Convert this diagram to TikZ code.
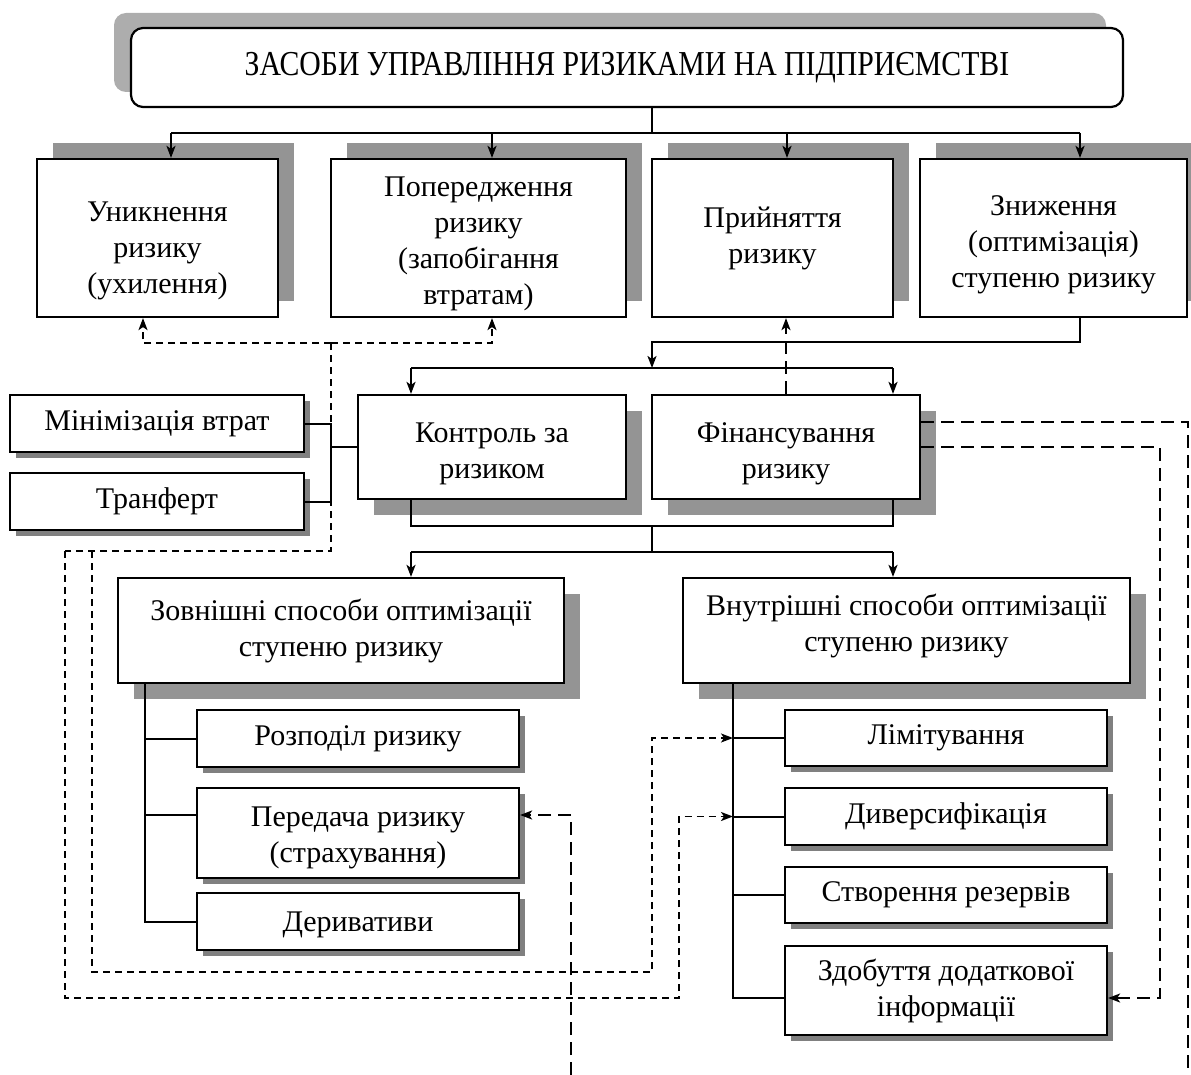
\documentclass[tikz,border=0pt]{standalone}
\usepackage{fontspec}
\setmainfont{Liberation Serif}
\usepackage{graphicx}
\usetikzlibrary{arrows.meta,shadows,calc}
\newcommand{\lowtext}[2]{\raisebox{#1}[\height][\depth]{\begin{tabular}{@{}c@{}}#2\end{tabular}}}
\begin{document}
\begin{tikzpicture}[x=1pt,y=-1pt,
  every node/.style={font=\fontsize{30}{36}\selectfont},
  box/.style={draw, line width=2.2pt, fill=white, align=center, inner sep=0pt},
  bigshup/.style={box, drop shadow={shadow xshift=16pt, shadow yshift=16pt, fill=black!42, opacity=1}},
  bigshdn/.style={box, drop shadow={shadow xshift=16pt, shadow yshift=-16pt, fill=black!42, opacity=1}},
  smallbox/.style={box, drop shadow={shadow xshift=6pt, shadow yshift=-6pt, fill=black!50, opacity=1}},
  conn/.style={line width=2pt},
  arr/.style={conn, -{Stealth[length=12pt,width=9pt,inset=3pt]}},
  sdash/.style={line width=1.8pt, dash pattern=on 7pt off 5pt},
  ldash/.style={line width=1.8pt, dash pattern=on 13pt off 7pt},
  darr/.style={-{Stealth[length=12pt,width=9pt,inset=3pt]}},
]
\useasboundingbox (0,0) rectangle (1191,1075);

% title
\node[draw, line width=2.2pt, fill=white, rounded corners=12pt, inner sep=0pt,
      minimum width=992pt, minimum height=79pt,
      drop shadow={shadow xshift=-17pt, shadow yshift=15pt, fill=black!32, opacity=1}]
  (title) at (627,67.5) {\scalebox{0.85}[1]{\fontsize{35}{40}\selectfont ЗАСОБИ УПРАВЛІННЯ РИЗИКАМИ НА ПІДПРИЄМСТВІ}};

% top row
\node[bigshup, minimum width=241pt, minimum height=158pt] (avoid) at (157.5,238) {\lowtext{-12pt}{Уникнення\\ризику\\(ухилення)}};
\node[bigshup, minimum width=295pt, minimum height=158pt] (prevent) at (478.5,238) {\lowtext{-5pt}{Попередження\\ризику\\(запобігання\\втратам)}};
\node[bigshup, minimum width=241pt, minimum height=158pt] (accept) at (772.5,238) {Прийняття\\ризику};
\node[bigshup, minimum width=267pt, minimum height=158pt] (reduce) at (1053.5,238) {\lowtext{-6pt}{Зниження\\(оптимізація)\\ступеню ризику}};

% middle row
\node[bigshdn, minimum width=268pt, minimum height=104pt] (control) at (492,447) {\lowtext{-6pt}{Контроль за\\ризиком}};
\node[bigshdn, minimum width=268pt, minimum height=104pt] (finance) at (786,447) {\lowtext{-6pt}{Фінансування\\ризику}};
\node[smallbox, minimum width=294pt, minimum height=57pt] (minim) at (157,423.5) {Мінімізація втрат};
\node[smallbox, minimum width=294pt, minimum height=57pt] (transf) at (157,501.5) {Транферт};

% optimisation boxes
\node[bigshdn, minimum width=446pt, minimum height=105pt] (ext) at (341,630.5) {Зовнішні способи оптимізації\\ступеню ризику};
\node[bigshdn, minimum width=447pt, minimum height=105pt] (int) at (906.5,630.5) {\lowtext{4pt}{Внутрішні способи оптимізації\\ступеню ризику}};

% left list
\node[smallbox, minimum width=322pt, minimum height=57pt] (distrib) at (358,738.5) {Розподіл ризику};
\node[smallbox, minimum width=322pt, minimum height=90pt] (transfer) at (358,833) {\lowtext{-4pt}{Передача ризику\\(страхування)}};
\node[smallbox, minimum width=322pt, minimum height=57pt] (deriv) at (358,921.5) {\lowtext{-3pt}{Деривативи}};

% right list
\node[smallbox, minimum width=322pt, minimum height=56pt] (limit) at (946,738) {Лімітування};
\node[smallbox, minimum width=322pt, minimum height=57pt] (divers) at (946,816.5) {Диверсифікація};
\node[smallbox, minimum width=322pt, minimum height=56pt] (reserve) at (946,895) {Створення резервів};
\node[smallbox, minimum width=322pt, minimum height=89pt] (info) at (946,990.5) {Здобуття додаткової\\інформації};

% helper coordinates
\coordinate (bus1) at (652,133);
\coordinate (j2) at (652,342);
\coordinate (bus2) at (652,368);
\coordinate (j3) at (652,526);
\coordinate (bus3) at (652,552);
\coordinate (j4) at (331,447);
\coordinate (tL) at ([xshift=-196pt]ext.south);
\coordinate (tR) at ([xshift=-173.5pt]int.south);
\coordinate (ptr) at ([yshift=18pt]transfer.west);
\coordinate (pinf) at ([yshift=-7.5pt]info.west);
\coordinate (nA) at ([xshift=13.5pt]avoid.north);
\coordinate (nP) at ([xshift=13.5pt]prevent.north);
\coordinate (nC) at ([xshift=14.5pt]accept.north);
\coordinate (nR) at ([xshift=26.5pt]reduce.north);
\coordinate (sR) at ([xshift=26.5pt]reduce.south);
\coordinate (nK) at ([xshift=-81pt]control.north);
\coordinate (sK) at ([xshift=-81pt]control.south);
\coordinate (nF) at ([xshift=107pt]finance.north);
\coordinate (sF) at ([xshift=107pt]finance.south);
\coordinate (nE) at ([xshift=70pt]ext.north);
\coordinate (nI) at ([xshift=-13.5pt]int.north);
\coordinate (sA) at ([xshift=-14.5pt]avoid.south);
\coordinate (sP) at ([xshift=13.5pt]prevent.south);
\coordinate (fE2) at ([yshift=25pt]finance.east);
\coordinate (d1) at (331,343);
\coordinate (d2) at (331,551);
\coordinate (d3) at (65,551);
\coordinate (d4) at (92,551);
\coordinate (o1) at (679,998);
\coordinate (i1) at (652,972);
\coordinate (e1) at (1188,1075);
\coordinate (e2) at (1160,998);
\coordinate (e3) at (571,1075);

% solid connectors
\draw[conn] (title.south -| bus1) -- (bus1);
\draw[conn] (nA |- bus1) -- (nR |- bus1);
\foreach \n in {nA,nP,nC,nR} \draw[arr] (\n |- bus1) -- (\n);
\draw[arr] (sR) |- (j2) -- (bus2);
\draw[conn] (nK |- bus2) -- (nF |- bus2);
\draw[arr] (nK |- bus2) -- (nK);
\draw[arr] (nF |- bus2) -- (nF);
\draw[conn] (sK) |- (j3) -| (sF);
\draw[conn] (j3) -- (bus3);
\draw[conn] (nE |- bus3) -- (nI |- bus3);
\draw[arr] (nE |- bus3) -- (nE);
\draw[arr] (nI |- bus3) -- (nI);
\draw[conn] (minim.east) -| (j4 |- transf.east) -- (transf.east);
\draw[conn] (j4) -- (control.west);
\draw[conn] (tL) |- (deriv.west);
\draw[conn] (tL |- distrib.west) -- (distrib.west);
\draw[conn] (tL |- ptr) -- (ptr);
\draw[conn] (tR) |- (pinf);
\draw[conn] (tR |- limit.west) -- (limit.west);
\draw[conn] (tR |- divers.west) -- (divers.west);
\draw[conn] (tR |- reserve.west) -- (reserve.west);

% dashed connectors
\draw[sdash, darr] (d1) -| (sA);
\draw[sdash, darr] (d1) -| (sP);
\draw[sdash] (d1) -- (d2) -- (d3);
\draw[sdash, darr] (d3) |- (o1) |- (tR |- divers.west);
\draw[sdash, darr] (d4) |- (i1) |- (tR |- limit.west);
\draw[ldash, darr] (finance.north) -- (finance.north |- accept.south);
\draw[ldash] (fE2) -| (e1);
\draw[ldash, darr] (finance.east) -| (e2) -- (info.east |- e2);
\draw[ldash, darr] (e3) |- (transfer.east |- ptr);
\end{tikzpicture}
\end{document}
